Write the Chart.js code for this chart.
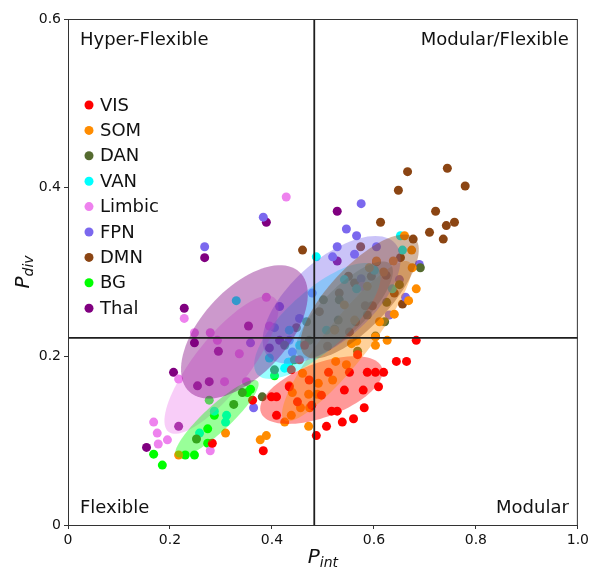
<!DOCTYPE html>
<html>
<head>
<meta charset="utf-8">
<script src="https://cdn.jsdelivr.net/npm/chart.js@4.4.1/dist/chart.umd.min.js"></script>
<style>
  html, body { margin: 0; padding: 0; background: #fff; }
  canvas { display: block; }
</style>
</head>
<body>
<canvas id="quadrant" width="592" height="572"></canvas>
<script>
// groupes et couleurs
const GROUPS = ['VIS', 'SOM', 'DAN', 'VAN', 'Limbic', 'FPN', 'DMN', 'BG', 'Thal'];
const COLORS = ['#ff0000', '#ff8c00', '#556b2f', '#00ffff', '#ee82ee', '#7b68ee', '#8b4513', '#00ff00', '#800080'];

// points [P_int, P_div]
const VIS = [[0.683,0.219],[0.644,0.194],[0.664,0.194],[0.587,0.181],[0.603,0.181],[0.619,0.181],[0.609,0.164],
  [0.579,0.160],[0.542,0.160],[0.511,0.181],[0.581,0.139],[0.517,0.135],[0.528,0.135],[0.560,0.126],[0.538,0.122],
  [0.507,0.117],[0.487,0.106],[0.362,0.148],[0.399,0.152],[0.409,0.152],[0.409,0.130],[0.434,0.164],[0.383,0.088],
  [0.283,0.097],[0.454,0.196],[0.473,0.172],[0.497,0.154],[0.450,0.146],[0.478,0.142],[0.552,0.181],[0.568,0.202],
  [0.464,0.213],[0.438,0.184]];
const SOM = [[0.660,0.343],[0.674,0.326],[0.675,0.305],[0.683,0.280],[0.668,0.266],[0.640,0.250],[0.626,0.219],
  [0.603,0.223],[0.603,0.213],[0.638,0.313],[0.605,0.313],[0.591,0.305],[0.619,0.300],[0.611,0.241],[0.587,0.283],
  [0.556,0.215],[0.566,0.218],[0.525,0.194],[0.546,0.190],[0.491,0.168],[0.519,0.172],[0.472,0.155],[0.489,0.155],
  [0.434,0.165],[0.440,0.157],[0.456,0.139],[0.474,0.139],[0.438,0.130],[0.425,0.122],[0.472,0.117],[0.460,0.180],
  [0.309,0.109],[0.377,0.101],[0.389,0.106],[0.217,0.083],[0.542,0.261],[0.562,0.243],[0.523,0.231]];
const DAN = [[0.691,0.305],[0.650,0.285],[0.621,0.241],[0.568,0.206],[0.625,0.264],[0.603,0.224],[0.381,0.152],
  [0.325,0.143],[0.342,0.157],[0.252,0.102],[0.523,0.232],[0.564,0.241],[0.530,0.243],[0.468,0.241],[0.501,0.267],
  [0.532,0.267],[0.587,0.249],[0.473,0.219],[0.425,0.213],[0.444,0.196],[0.405,0.184]];
const VAN = [[0.652,0.343],[0.656,0.326],[0.487,0.318],[0.566,0.280],[0.636,0.280],[0.309,0.122],[0.287,0.135],
  [0.395,0.198],[0.432,0.193],[0.330,0.266],[0.258,0.109],[0.311,0.130],[0.425,0.186],[0.507,0.231],[0.454,0.213],
  [0.434,0.231],[0.542,0.291],[0.601,0.302]];
const LIMBIC = [[0.428,0.389],[0.228,0.245],[0.389,0.270],[0.395,0.236],[0.279,0.228],[0.336,0.203],[0.307,0.170],
  [0.217,0.173],[0.168,0.122],[0.175,0.109],[0.177,0.096],[0.195,0.101],[0.279,0.088],[0.293,0.219],[0.248,0.228],
  [0.350,0.170],[0.577,0.283]];
const FPN = [[0.383,0.365],[0.268,0.330],[0.546,0.351],[0.528,0.330],[0.519,0.318],[0.562,0.321],[0.566,0.343],
  [0.575,0.381],[0.415,0.259],[0.650,0.291],[0.662,0.270],[0.630,0.249],[0.575,0.292],[0.605,0.330],[0.689,0.309],
  [0.479,0.275],[0.358,0.216],[0.364,0.139],[0.440,0.205],[0.405,0.234],[0.454,0.245],[0.434,0.219]];
const DMN = [[0.744,0.423],[0.779,0.402],[0.666,0.419],[0.648,0.397],[0.721,0.372],[0.742,0.355],[0.758,0.359],
  [0.709,0.347],[0.736,0.339],[0.677,0.339],[0.613,0.359],[0.460,0.326],[0.652,0.317],[0.574,0.330],[0.605,0.312],
  [0.624,0.296],[0.595,0.295],[0.550,0.295],[0.640,0.275],[0.656,0.262],[0.562,0.287],[0.583,0.260],[0.597,0.260],
  [0.532,0.275],[0.493,0.253],[0.448,0.234],[0.509,0.212],[0.552,0.229]];
const BG = [[0.405,0.177],[0.358,0.161],[0.352,0.157],[0.277,0.148],[0.287,0.130],[0.274,0.114],[0.274,0.097],
  [0.168,0.084],[0.185,0.071],[0.230,0.083],[0.248,0.083],[0.434,0.193]];
const THAL = [[0.528,0.372],[0.389,0.359],[0.268,0.317],[0.228,0.257],[0.528,0.313],[0.354,0.236],[0.248,0.216],
  [0.295,0.206],[0.207,0.181],[0.277,0.170],[0.254,0.165],[0.217,0.117],[0.154,0.092],[0.395,0.210],[0.415,0.219]];
const POINTS = [VIS, SOM, DAN, VAN, LIMBIC, FPN, DMN, BG, THAL];

// ellipses : centre et demi-axes (unités des données), même ordre que GROUPS
const ELL_CENTER = [[0.497,0.160],[0.547,0.218],[0.542,0.255],[0.489,0.242],[0.301,0.190],[0.517,0.267],[0.572,0.271],[0.292,0.126],[0.346,0.229]];
const ELL_MAJOR = [[0.1186,0.0267],[0.1227,0.0936],[0.0902,0.0545],[0.1176,0.0634],[0.1039,0.0794],[0.1249,0.0668],[0.1078,0.0694],[0.0800,0.0445],[0.1078,0.0711]];
const ELL_MINOR = [[-0.0184,0.0300],[-0.0338,0.0162],[-0.0305,0.0185],[-0.0391,0.0266],[-0.0415,0.0199],[-0.0520,0.0356],[-0.0429,0.0243],[-0.0173,0.0114],[-0.0620,0.0345]];

// seuils des quadrants
const P_INT_CUT = 0.483;
const P_DIV_CUT = 0.222;

const X_TICKS = [0, 0.2, 0.4, 0.6, 0.8, 1.0];
const Y_TICKS = [0, 0.2, 0.4, 0.6];
const QUADRANTS = ['Hyper-Flexible', 'Modular/Flexible', 'Flexible', 'Modular'];

const FONT = "'DejaVu Sans', sans-serif";

function hexToRgba(hex, a) {
    let r = parseInt(hex.slice(1, 3), 16);
    let g = parseInt(hex.slice(3, 5), 16);
    let b = parseInt(hex.slice(5, 7), 16);
    return 'rgba(' + r + ',' + g + ',' + b + ',' + a + ')';
}

function tickLabel(v) {
    return v === 0 ? '0' : v.toFixed(1);
}

const overlay = {
    id: 'overlay',
    afterDatasetsDraw(chart) {
        const ctx = chart.ctx;
        const a = chart.chartArea;
        const xs = chart.scales.x;
        const ys = chart.scales.y;

        ctx.save();
        ctx.beginPath();
        ctx.rect(a.left, a.top, a.right - a.left, a.bottom - a.top);
        ctx.clip();

        // ellipses par groupe
        for (let i = 0; i < GROUPS.length; i++) {
            const [cx, cy] = ELL_CENTER[i];
            const [ux, uy] = ELL_MAJOR[i];
            const [vx, vy] = ELL_MINOR[i];
            ctx.beginPath();
            for (let k = 0; k <= 90; k++) {
                const t = k / 90 * 2 * Math.PI;
                const px = xs.getPixelForValue(cx + ux * Math.cos(t) + vx * Math.sin(t));
                const py = ys.getPixelForValue(cy + uy * Math.cos(t) + vy * Math.sin(t));
                if (k === 0) ctx.moveTo(px, py); else ctx.lineTo(px, py);
            }
            ctx.closePath();
            ctx.fillStyle = hexToRgba(COLORS[i], 0.4);
            ctx.fill();
        }

        // lignes de séparation
        ctx.strokeStyle = '#1e1e1e';
        ctx.lineWidth = 1.8;
        const vx0 = xs.getPixelForValue(P_INT_CUT);
        const hy0 = ys.getPixelForValue(P_DIV_CUT);
        ctx.beginPath();
        ctx.moveTo(vx0, a.top);
        ctx.lineTo(vx0, a.bottom);
        ctx.moveTo(a.left, hy0);
        ctx.lineTo(a.right, hy0);
        ctx.stroke();
        ctx.restore();

        // cadre
        ctx.save();
        ctx.strokeStyle = '#333';
        ctx.lineWidth = 1;
        ctx.strokeRect(a.left + 0.5, a.top + 0.5, a.right - a.left - 1, a.bottom - a.top);
        ctx.restore();

        // textes des quadrants
        ctx.save();
        ctx.fillStyle = '#111';
        ctx.font = '18px ' + FONT;
        ctx.textBaseline = 'alphabetic';
        ctx.textAlign = 'left';
        ctx.fillText(QUADRANTS[0], a.left + 12, a.top + 26);
        ctx.fillText(QUADRANTS[2], a.left + 12, a.bottom - 12);
        ctx.textAlign = 'right';
        ctx.fillText(QUADRANTS[1], a.right - 9, a.top + 26);
        ctx.fillText(QUADRANTS[3], a.right - 9, a.bottom - 12);

        // légende
        ctx.textAlign = 'left';
        ctx.textBaseline = 'middle';
        for (let i = 0; i < GROUPS.length; i++) {
            const yy = a.top + 86 + i * 25.4;
            ctx.beginPath();
            ctx.arc(a.left + 21, yy, 4.5, 0, 2 * Math.PI);
            ctx.fillStyle = COLORS[i];
            ctx.fill();
            ctx.fillStyle = '#111';
            ctx.fillText(GROUPS[i], a.left + 32, yy + 1);
        }

        // titres des axes
        ctx.textBaseline = 'alphabetic';
        ctx.font = 'italic 20px ' + FONT;
        const wP = ctx.measureText('P').width;
        ctx.font = 'italic 14px ' + FONT;
        const wInt = ctx.measureText('int').width;
        const wDiv = ctx.measureText('div').width;
        let x0 = (a.left + a.right) / 2 - (wP + wInt) / 2;
        ctx.font = 'italic 20px ' + FONT;
        ctx.fillText('P', x0, 563);
        ctx.font = 'italic 14px ' + FONT;
        ctx.fillText('int', x0 + wP, 567);

        ctx.translate(29, (a.top + a.bottom) / 2);
        ctx.rotate(-Math.PI / 2);
        let y0 = -(wP + wDiv) / 2;
        ctx.font = 'italic 20px ' + FONT;
        ctx.fillText('P', y0, 0);
        ctx.font = 'italic 14px ' + FONT;
        ctx.fillText('div', y0 + wP, 4);
        ctx.restore();
    }
};

const axisCommon = {
    type: 'linear',
    grid: { display: true, drawOnChartArea: false, drawTicks: true, tickLength: 4, tickColor: '#333' },
    border: { display: true, color: '#333', width: 1 }
};

new Chart(document.getElementById('quadrant').getContext('2d'), {
    type: 'scatter',
    data: {
        datasets: GROUPS.map((g, i) => ({
            label: g,
            data: POINTS[i].map(p => ({ x: p[0], y: p[1] })),
            backgroundColor: COLORS[i],
            borderWidth: 0,
            pointRadius: 4.5,
            pointHoverRadius: 4.5
        }))
    },
    options: {
        responsive: false,
        animation: false,
        devicePixelRatio: 1,
        layout: { padding: { top: 19, right: 14, left: 0, bottom: 0 } },
        plugins: { legend: { display: false }, tooltip: { enabled: false } },
        scales: {
            x: Object.assign({}, axisCommon, {
                min: 0, max: 1,
                afterBuildTicks: s => { s.ticks = X_TICKS.map(v => ({ value: v })); },
                ticks: { callback: tickLabel, font: { family: FONT, size: 14 }, color: '#111', padding: 3, maxRotation: 0 },
                afterFit: s => { s.height = 47; }
            }),
            y: Object.assign({}, axisCommon, {
                min: 0, max: 0.6,
                afterBuildTicks: s => { s.ticks = Y_TICKS.map(v => ({ value: v })); },
                ticks: { callback: tickLabel, font: { family: FONT, size: 14 }, color: '#111', padding: 3 },
                afterFit: s => { s.width = 68; }
            })
        }
    },
    plugins: [overlay]
});
</script>
</body>
</html>
